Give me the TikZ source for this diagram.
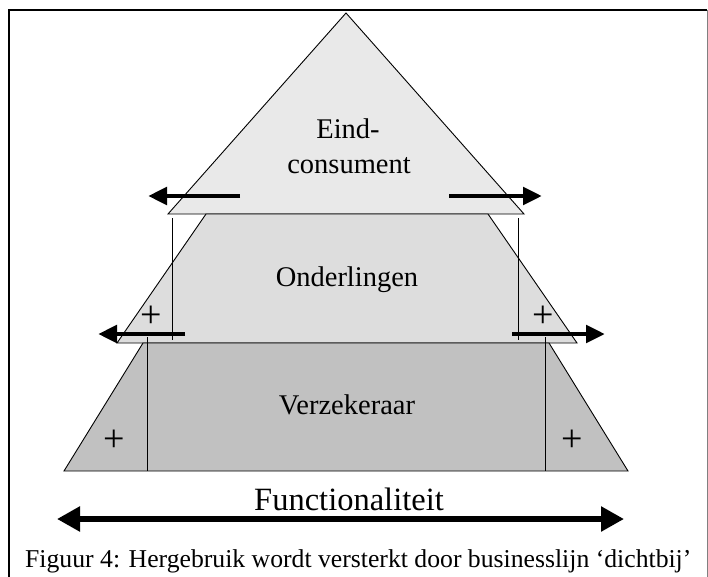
\documentclass[tikz,border=0pt]{standalone}
\usepackage{fontspec}
\setmainfont{Liberation Serif}
\usetikzlibrary{arrows.meta}
\definecolor{toplayer}{gray}{0.915}
\definecolor{midlayer}{gray}{0.865}
\definecolor{lowlayer}{gray}{0.755}
\begin{document}
\begin{tikzpicture}[x=1pt,y=-1pt,
  layer/.style={draw=black, line width=0.9pt, line join=miter},
  divider/.style={draw=black, line width=1pt},
  shiftarrow/.style={line width=4.8pt, -{Triangle[length=19pt,width=17pt]}},
  widearrow/.style={line width=5.5pt, {Triangle[length=23pt,width=24pt]}-{Triangle[length=23pt,width=24pt]}},
  lbl/.style={font=\fontsize{28.5}{34}\selectfont, inner sep=0pt, anchor=base},
  plussign/.style={font=\fontsize{38}{38}\selectfont, inner sep=0pt},
]
\useasboundingbox (0,0) rectangle (708,577);

% frame
\draw[line width=2pt] (9,577) -- (9,10) -- (707,10);
\draw[gray, line width=1pt] (707,10) -- (707,577);

% the three layers of the pyramid
\path[layer, fill=toplayer] (346,13) -- (168,214) -- (524,214) -- cycle;
\path[layer, fill=midlayer] (206,214) -- (488,214) -- (577,343) -- (117,343) -- cycle;
\path[layer, fill=lowlayer] (143,343) -- (549,343) -- (628,471) -- (64,471) -- cycle;

% vertical dividers
\coordinate (ua) at (172,218); \coordinate (ub) at (172,340);
\coordinate (uc) at (518,218); \coordinate (ud) at (518,340);
\coordinate (la) at (147,337); \coordinate (lb) at (147,471);
\coordinate (lc) at (545,337); \coordinate (ld) at (545,471);
\draw[divider] (ua) -- (ub);
\draw[divider] (uc) -- (ud);
\draw[divider] (la) -- (lb);
\draw[divider] (lc) -- (ld);

% outward arrows
\coordinate (t1) at (240,196); \coordinate (t1h) at (148,196);
\coordinate (t2) at (449,196); \coordinate (t2h) at (542,196);
\coordinate (m1) at (185,334); \coordinate (m1h) at (98,334);
\coordinate (m2) at (512,334); \coordinate (m2h) at (605,334);
\draw[shiftarrow] (t1) -- (t1h);
\draw[shiftarrow] (t2) -- (t2h);
\draw[shiftarrow] (m1) -- (m1h);
\draw[shiftarrow] (m2) -- (m2h);

% labels
\node[lbl] (eind) at (348,139) {Eind-};
\node[lbl] (consument) at (349,174) {consument};
\node[lbl] (onder) at (347,286) {Onderlingen};
\node[lbl] (verz) at (347,414) {Verzekeraar};

\node[plussign] (p1) at (151,317) {+};
\node[plussign] (p2) at (543,317) {+};
\node[plussign] (p3) at (114,441) {+};
\node[plussign] (p4) at (572,441) {+};

% functionality axis
\node[font=\fontsize{32.5}{36}\selectfont, inner sep=0pt, anchor=base] (func) at (349,510) {Functionaliteit};
\coordinate (fa) at (57,519);
\coordinate (fb) at (624,519);
\draw[widearrow] (fa) -- (fb);

% caption
\node[font=\fontsize{25.7}{30}\selectfont, inner sep=0pt, anchor=base west] (cap) at (25,567)
  {Figuur 4: Hergebruik wordt versterkt door businesslijn ‘dichtbij’};
\end{tikzpicture}
\end{document}
